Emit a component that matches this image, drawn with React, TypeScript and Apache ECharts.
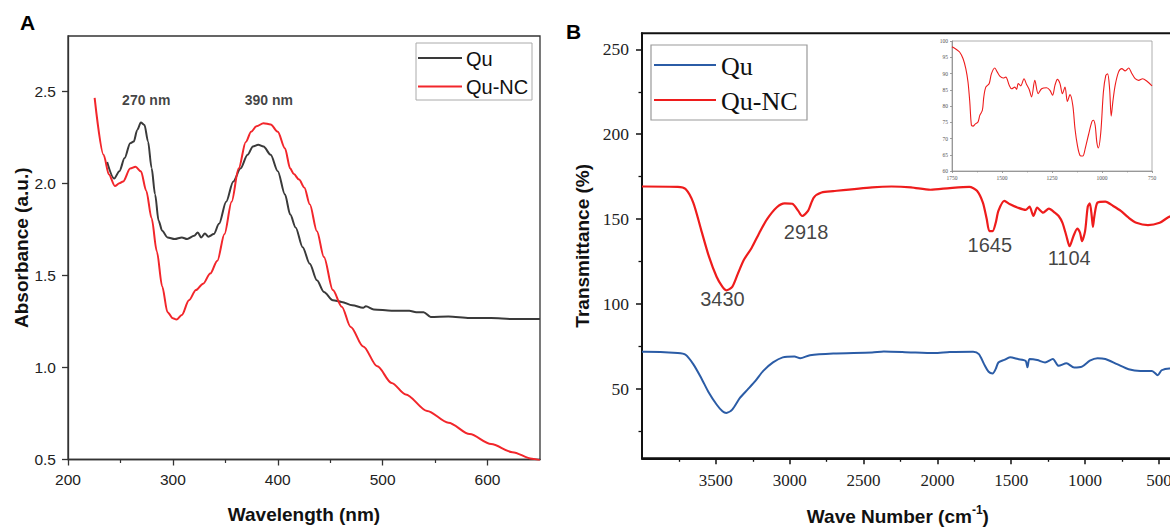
import React, { useEffect, useRef } from "react";
import * as echarts from "echarts";

// ---------- Panel A: UV-Vis (wavelength nm, absorbance a.u.) ----------
const quA: [number, number][] = [
  [237.3, 2.116], [244, 2.026], [249, 2.066], [254, 2.137], [259.3, 2.218], [262.7, 2.227],
  [266, 2.29], [269.5, 2.33], [272.9, 2.317], [276.3, 2.227], [279.7, 2.083], [283, 1.94],
  [286.4, 1.796], [289.8, 1.742], [294.9, 1.706], [301.7, 1.697], [308.5, 1.706], [313.6, 1.697],
  [320.3, 1.715], [323.7, 1.733], [327, 1.706], [330.5, 1.728], [333.9, 1.71], [339, 1.724],
  [344, 1.78], [350.8, 1.9], [357.6, 2.01], [364.4, 2.08], [371.2, 2.155], [376.3, 2.2],
  [381.4, 2.21], [386.4, 2.2], [393.2, 2.155], [400, 2.066], [406.8, 1.94], [411.9, 1.83],
  [417, 1.76], [423.7, 1.653], [430.5, 1.563], [437.3, 1.473], [444, 1.41], [452.5, 1.365],
  [461, 1.356], [471, 1.338], [481.4, 1.324], [484, 1.332], [491.5, 1.315], [508.5, 1.308],
  [525.4, 1.308], [532, 1.3], [539, 1.3], [545.8, 1.274], [562.7, 1.276], [583, 1.268],
  [603.4, 1.268], [623.7, 1.263], [650, 1.263],
];
const quNCA: [number, number][] = [
  [225.4, 2.464], [233.9, 2.155], [239, 2.048], [244.7, 1.985], [249, 2.0], [252.5, 2.01],
  [259.3, 2.08], [264.4, 2.09], [269.5, 2.065], [274.6, 1.96], [279.7, 1.81], [284.7, 1.63],
  [289.8, 1.44], [294.9, 1.3], [300, 1.267], [303.4, 1.26], [308.5, 1.285], [315.3, 1.365],
  [322, 1.42], [328.8, 1.455], [335.6, 1.51], [342.4, 1.58], [349.2, 1.725], [356, 1.9],
  [362.7, 2.08], [369.5, 2.225], [374.6, 2.28], [379.7, 2.31], [386.4, 2.326], [393.2, 2.32],
  [400, 2.28], [406.8, 2.19], [411.9, 2.08], [415.3, 2.05], [420.3, 2.02], [425.4, 1.976],
  [430.5, 1.886], [437.3, 1.74], [444, 1.6], [452.5, 1.42], [461, 1.33], [469.5, 1.22],
  [481.4, 1.114], [494.9, 1.006], [508.5, 0.916], [522, 0.853], [542.4, 0.764], [562.7, 0.7],
  [583, 0.638], [603.4, 0.584], [623.7, 0.54], [642.4, 0.504], [650, 0.495],
];
const annA: [number, number, string][] = [
  [274.6, 2.45, "270 nm"],
  [391.5, 2.45, "390 nm"],
];
const aXLabels = [200, 300, 400, 500, 600];
const aXMinor = [250, 350, 450, 550];
const aYLabels = [0.5, 1.0, 1.5, 2.0, 2.5];

// ---------- Panel B: FTIR (wave number cm-1, transmittance %) ----------
const quB: [number, number][] = [
  [4000, 71.8], [3981, 71.8], [3758, 71], [3705, 70], [3653, 64.5], [3600, 56.5], [3547, 47.6],
  [3495, 40.7], [3455, 36.7], [3429, 35.7], [3389, 37.7], [3337, 44.6], [3284, 49.6],
  [3232, 54.6], [3179, 60.5], [3113, 65.5], [3047, 68.5], [2968, 69], [2929, 68], [2863, 69.8],
  [2705, 70.8], [2442, 71.4], [2363, 72], [2179, 71.4], [2021, 71], [1916, 71.6], [1758, 71.8],
  [1719, 70.4], [1684, 64.5], [1653, 60], [1626, 59], [1605, 61.7], [1587, 65.5], [1547, 67],
  [1508, 68.5], [1455, 67.5], [1403, 66.5], [1390, 62.6], [1376, 67.5], [1324, 66.9],
  [1271, 65.5], [1218, 67.5], [1179, 63.5], [1126, 65], [1074, 62.5], [1021, 63], [968, 66.5],
  [916, 68], [863, 67.5], [784, 64.5], [705, 61.5], [626, 60.5], [547, 60.5], [508, 58],
  [482, 60.9], [429, 62], [400, 62],
];
const quNCB: [number, number][] = [
  [4000, 169.2], [3981, 169.2], [3758, 169], [3705, 167.7], [3653, 159.7], [3600, 143.8],
  [3547, 128], [3495, 116], [3455, 110], [3429, 108], [3389, 110], [3350, 118], [3310, 126],
  [3258, 133], [3205, 142], [3153, 150], [3087, 157], [3034, 159.3], [2982, 159], [2942, 154.8],
  [2916, 151.8], [2876, 154.8], [2837, 162.7], [2784, 165.7], [2705, 166.5], [2442, 168.7],
  [2310, 169.2], [2179, 168.7], [2047, 167.3], [1916, 168.3], [1784, 169], [1732, 166.7],
  [1692, 159.7], [1666, 150], [1648, 142.9], [1626, 142.9], [1605, 147.8], [1587, 154.8],
  [1547, 160.7], [1508, 158.7], [1455, 156.7], [1403, 155.4], [1376, 157.3], [1350, 151.8],
  [1324, 156.7], [1284, 153.8], [1245, 156.2], [1205, 153.8], [1179, 151.8], [1153, 147.8],
  [1126, 139.9], [1105, 134], [1079, 139.9], [1053, 144.4], [1034, 141.9], [1021, 137],
  [1000, 142.9], [982, 157.3], [968, 159.3], [955, 151.8], [947, 145.4], [937, 151.8],
  [916, 159.7], [863, 160.3], [810, 157.7], [758, 154.8], [705, 150.8], [653, 147.8],
  [574, 146.4], [495, 147.8], [442, 150.8], [400, 152.5],
];
const annB: [number, number, string][] = [
  [3455, 102.6, "3430"],
  [2889, 142.3, "2918"],
  [1645, 134.9, "1645"],
  [1108, 127, "1104"],
];
const bXLabels = [500, 1000, 1500, 2000, 2500, 3000, 3500];
const bXMinor = [750, 1250, 1750, 2250, 2750, 3250, 3750];
const bYLabels = [50, 100, 150, 200, 250];
const bYMinor = [25, 75, 125, 175, 225];

// ---------- Inset: FTIR zoom 1750-750 cm-1 ----------
const insetNC: [number, number][] = [
  [1750, 98.2], [1728, 97.4], [1712, 96.6], [1695, 94.6], [1681, 91.5], [1670, 87.4],
  [1661, 81.2], [1653, 74.1], [1645, 73.8], [1633, 74.5], [1620, 75.1], [1611, 77.1],
  [1598, 78.7], [1591, 82.8], [1581, 85.8], [1564, 86.9], [1553, 89.9], [1536, 91.7],
  [1524, 90.5], [1511, 89.2], [1494, 88.6], [1481, 88.9], [1464, 86.4], [1452, 85.3],
  [1436, 85.8], [1427, 85.1], [1419, 86.9], [1406, 86.2], [1390, 88.4], [1377, 86.6],
  [1364, 85.1], [1352, 82.8], [1336, 87.9], [1319, 83.8], [1302, 85.3], [1277, 85.6],
  [1260, 84.8], [1247, 83.3], [1235, 86.4], [1223, 88.2], [1210, 86.9], [1198, 83.8],
  [1185, 85.8], [1173, 81.4], [1160, 83.5], [1146, 80.2], [1135, 73], [1123, 67.9],
  [1110, 64.8], [1096, 64.6], [1084, 66.9], [1068, 71], [1051, 75.1], [1043, 75.6],
  [1034, 74], [1026, 68.9], [1018, 67.1], [1006, 71.9], [993, 84.3], [981, 89.4], [972, 89.9],
  [962, 85.3], [954, 76.9], [946, 81.2], [934, 86.4], [917, 90.5], [901, 91.5], [884, 90.8],
  [867, 91.7], [850, 89.9], [834, 88.4], [817, 87.9], [797, 88.4], [775, 87.6], [750, 86.2],
];

const SANS = "'Liberation Sans', Arial, sans-serif";
const SERIF = "'Liberation Serif', 'Times New Roman', serif";

const gray = "#3a3a3a";
const redA = "#f2262b";
const blueB = "#2b5ca6";
const redB = "#ee1c1c";

const plain = (v: number) => String(v);

function buildOption() {
  const hidden = { show: false };
  const xAxis: any[] = [
    // 0: panel A main
    {
      gridIndex: 0, type: "value", min: 200, max: 650, position: "bottom",
      name: "Wavelength (nm)", nameLocation: "middle", nameGap: 45,
      nameTextStyle: { fontFamily: SANS, fontWeight: "bold", fontSize: 19, color: "#111" },
      axisLine: { show: true, onZero: false, lineStyle: { color: "#333", width: 1.3 } },
      axisTick: { show: true, length: 6, customValues: aXLabels, lineStyle: { color: "#333", width: 1.3 } },
      axisLabel: { customValues: aXLabels, margin: 12, fontFamily: SANS, fontSize: 15.5, color: "#222", formatter: plain },
      splitLine: hidden,
    },
    // 1: panel A minor ticks
    {
      gridIndex: 0, type: "value", min: 200, max: 650, position: "bottom",
      axisLine: hidden, axisLabel: hidden, splitLine: hidden,
      axisTick: { show: true, length: 3.5, customValues: aXMinor, lineStyle: { color: "#333", width: 1.2 } },
    },
    // 2: panel B main
    {
      gridIndex: 1, type: "value", min: 400, max: 4000, inverse: true, position: "bottom",
      name: "{a|Wave Number (cm}{s|-1}{a|)}", nameLocation: "middle", nameGap: 46,
      nameTextStyle: {
        padding: [0, 20, 0, 0],
        rich: {
          a: { fontFamily: SANS, fontWeight: "bold", fontSize: 19, color: "#111", lineHeight: 24 },
          s: { fontFamily: SANS, fontWeight: "bold", fontSize: 12, color: "#111", lineHeight: 12, verticalAlign: "top" },
        },
      },
      axisLine: { show: true, onZero: false, lineStyle: { color: "#111", width: 2 } },
      axisTick: { show: true, length: 6, customValues: bXLabels, lineStyle: { color: "#111", width: 1.5 } },
      axisLabel: { customValues: bXLabels, margin: 14, fontFamily: SERIF, fontSize: 17, color: "#222", formatter: plain },
      splitLine: hidden,
    },
    // 3: panel B minor ticks
    {
      gridIndex: 1, type: "value", min: 400, max: 4000, inverse: true, position: "bottom",
      axisLine: hidden, axisLabel: hidden, splitLine: hidden,
      axisTick: { show: true, length: 3.5, customValues: bXMinor, lineStyle: { color: "#111", width: 1.3 } },
    },
    // 4: inset
    {
      gridIndex: 2, type: "value", min: 750, max: 1750, interval: 250, inverse: true, position: "bottom",
      axisLine: { show: true, onZero: false, lineStyle: { color: "#888", width: 0.8 } },
      axisTick: { show: true, length: 2, lineStyle: { color: "#888", width: 0.8 } },
      minorTick: { show: true, splitNumber: 2, length: 1.5, lineStyle: { color: "#888", width: 0.6 } },
      axisLabel: { margin: 4, fontFamily: SERIF, fontSize: 5.5, color: "#555", formatter: plain },
      splitLine: hidden,
    },
  ];
  const yAxis: any[] = [
    // 0: panel A
    {
      gridIndex: 0, type: "value", min: 0.5, max: 2.8, position: "left",
      name: "Absorbance (a.u.)", nameLocation: "middle", nameGap: 36,
      nameTextStyle: { fontFamily: SANS, fontWeight: "bold", fontSize: 19, color: "#111" },
      axisLine: { show: true, onZero: false, lineStyle: { color: "#333", width: 1.3 } },
      axisTick: { show: true, length: 6, customValues: aYLabels, lineStyle: { color: "#333", width: 1.3 } },
      axisLabel: {
        customValues: aYLabels, margin: 12, fontFamily: SANS, fontSize: 15.5, color: "#222",
        formatter: (v: number) => v.toFixed(1),
      },
      splitLine: hidden,
    },
    // 1: panel B main
    {
      gridIndex: 1, type: "value", min: 9, max: 259.5, position: "left",
      name: "Transmittance (%)", nameLocation: "middle", nameGap: 50,
      nameTextStyle: { fontFamily: SANS, fontWeight: "bold", fontSize: 19, color: "#111" },
      axisLine: { show: true, onZero: false, lineStyle: { color: "#111", width: 2 } },
      axisTick: { show: true, length: 6, customValues: bYLabels, lineStyle: { color: "#111", width: 1.5 } },
      axisLabel: { customValues: bYLabels, margin: 13, fontFamily: SERIF, fontSize: 17.5, color: "#222", formatter: plain },
      splitLine: hidden,
    },
    // 2: panel B minor ticks
    {
      gridIndex: 1, type: "value", min: 9, max: 259.5, position: "left",
      axisLine: hidden, axisLabel: hidden, splitLine: hidden,
      axisTick: { show: true, length: 3.5, customValues: bYMinor, lineStyle: { color: "#111", width: 1.3 } },
    },
    // 3: inset
    {
      gridIndex: 2, type: "value", min: 60, max: 100, interval: 5, position: "left",
      axisLine: { show: true, onZero: false, lineStyle: { color: "#888", width: 0.8 } },
      axisTick: { show: true, length: 2, lineStyle: { color: "#888", width: 0.8 } },
      axisLabel: { margin: 4, fontFamily: SERIF, fontSize: 5.5, color: "#555", formatter: plain },
      splitLine: hidden,
    },
  ];

  const annLabel = (size: number, weight: string) => ({
    show: true, position: "inside",
    formatter: (p: any) => p.data[2],
    fontFamily: SANS, fontSize: size, fontWeight: weight, color: "#111",
  });

  const gridBase = { outerBoundsMode: "none", containLabel: false, show: true };

  return {
    animation: false,
    backgroundColor: "#ffffff",
    grid: [
      { ...gridBase, left: 68, top: 36, width: 472, height: 423.5, borderColor: "#333", borderWidth: 1.3, backgroundColor: "transparent" },
      { ...gridBase, left: 642, top: 33.3, width: 531.7, height: 425, borderColor: "#111", borderWidth: 2, backgroundColor: "transparent" },
      { ...gridBase, left: 952, top: 41, width: 200, height: 130, borderColor: "#999", borderWidth: 0.8, backgroundColor: "#fff" },
    ],
    xAxis,
    yAxis,
    series: [
      {
        name: "Qu", type: "line", xAxisIndex: 0, yAxisIndex: 0, data: quA,
        showSymbol: false, symbol: "none", smooth: 0.3, smoothMonotone: "x",
        lineStyle: { color: gray, width: 2 }, itemStyle: { color: gray }, z: 3,
      },
      {
        name: "Qu-NC", type: "line", xAxisIndex: 0, yAxisIndex: 0, data: quNCA,
        showSymbol: false, symbol: "none", smooth: 0.3, smoothMonotone: "x",
        lineStyle: { color: redA, width: 2 }, itemStyle: { color: redA }, z: 4,
      },
      {
        name: "Qu ", type: "line", xAxisIndex: 2, yAxisIndex: 1, data: quB,
        showSymbol: false, symbol: "none", smooth: 0.25,
        lineStyle: { color: blueB, width: 2 }, itemStyle: { color: blueB }, z: 3,
      },
      {
        name: "Qu-NC ", type: "line", xAxisIndex: 2, yAxisIndex: 1, data: quNCB,
        showSymbol: false, symbol: "none", smooth: 0.25,
        lineStyle: { color: redB, width: 2.2 }, itemStyle: { color: redB }, z: 4,
      },
      {
        name: "inset", type: "line", xAxisIndex: 4, yAxisIndex: 3, data: insetNC,
        showSymbol: false, symbol: "none", smooth: 0.3,
        lineStyle: { color: redB, width: 1.1 }, itemStyle: { color: redB }, z: 5,
      },
      {
        type: "scatter", xAxisIndex: 0, yAxisIndex: 0, data: annA, symbolSize: 1,
        itemStyle: { color: "rgba(0,0,0,0)" }, label: annLabel(14, "bold"), silent: true, z: 6,
      },
      {
        type: "scatter", xAxisIndex: 2, yAxisIndex: 1, data: annB, symbolSize: 1,
        itemStyle: { color: "rgba(0,0,0,0)" }, label: annLabel(20, "normal"), silent: true, z: 6,
      },
    ],
    graphic: [
      { type: "text", x: 20, y: 22, style: { text: "A", fontFamily: SANS, fontWeight: "bold", fontSize: 21, fill: "#000", verticalAlign: "middle" } },
      { type: "text", x: 566, y: 31, style: { text: "B", fontFamily: SANS, fontWeight: "bold", fontSize: 21, fill: "#000", verticalAlign: "middle" } },
      // legend A
      { type: "rect", shape: { x: 416, y: 43, width: 116, height: 57 }, style: { fill: "#fff", stroke: "#aaa", lineWidth: 1 }, z: 10 },
      { type: "line", shape: { x1: 418, y1: 58, x2: 462, y2: 58 }, style: { stroke: gray, lineWidth: 2.2 }, z: 11 },
      { type: "line", shape: { x1: 418, y1: 86.5, x2: 462, y2: 86.5 }, style: { stroke: redA, lineWidth: 2.2 }, z: 11 },
      { type: "text", x: 466, y: 58.5, style: { text: "Qu", fontFamily: SANS, fontSize: 20, fill: "#111", verticalAlign: "middle" }, z: 11 },
      { type: "text", x: 466, y: 87, style: { text: "Qu-NC", fontFamily: SANS, fontSize: 20, fill: "#111", verticalAlign: "middle" }, z: 11 },
      // legend B
      { type: "rect", shape: { x: 651, y: 45, width: 156, height: 75 }, style: { fill: "#fff", stroke: "#999", lineWidth: 1.2 }, z: 10 },
      { type: "line", shape: { x1: 654, y1: 65, x2: 716, y2: 65 }, style: { stroke: blueB, lineWidth: 2.2 }, z: 11 },
      { type: "line", shape: { x1: 654, y1: 100, x2: 716, y2: 100 }, style: { stroke: redB, lineWidth: 2.2 }, z: 11 },
      { type: "text", x: 721, y: 66, style: { text: "Qu", fontFamily: SERIF, fontSize: 26, fill: "#111", verticalAlign: "middle" }, z: 11 },
      { type: "text", x: 721, y: 101, style: { text: "Qu-NC", fontFamily: SERIF, fontSize: 26, fill: "#111", verticalAlign: "middle" }, z: 11 },
    ],
  };
}

export default function App() {
  const ref = useRef<HTMLDivElement>(null);
  useEffect(() => {
    document.body.style.margin = "0";
    const chart = echarts.init(ref.current as HTMLDivElement, null, { renderer: "svg" });
    chart.setOption(buildOption() as any);
    return () => chart.dispose();
  }, []);
  return <div ref={ref} style={{ width: 1170, height: 529, background: "#fff" }} />;
}
